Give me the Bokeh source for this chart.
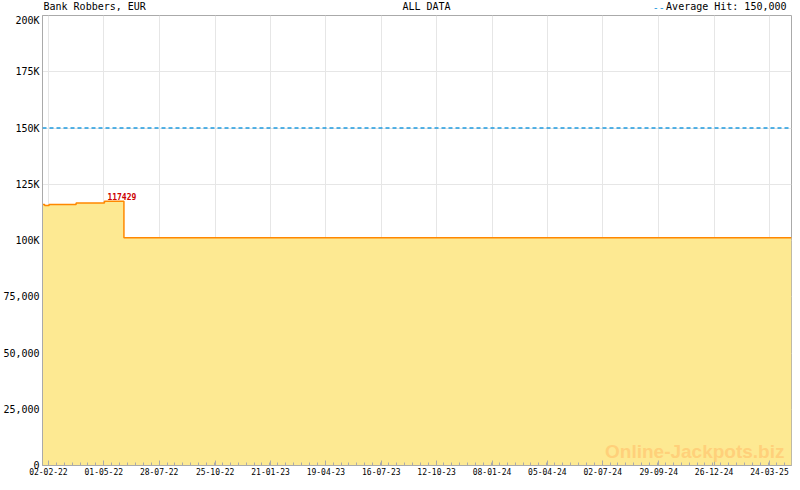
import pandas as pd
from bokeh.plotting import figure
from bokeh.layouts import column
from bokeh.models import Range1d, FixedTicker, DatetimeTickFormatter, Span, Label, ColumnDataSource
from bokeh.core.properties import value
from bokeh.embed import file_html
from bokeh.resources import INLINE

# ---- data ----
title_left = "Bank Robbers, EUR"
title_mid = "ALL DATA"
avg_label = "Average Hit: 150,000"
avg_hit = 150000
watermark = "Online-Jackpots.biz"

step_dates = ["2022-01-23 14:00", "2022-01-27", "2022-02-03", "2022-03-18",
              "2022-05-02", "2022-06-02", "2025-04-28"]
step_values = [116000, 115600, 116000, 116700, 117429, 101200]

x_tick_labels = ["02-02-22", "01-05-22", "28-07-22", "25-10-22", "21-01-23",
                 "19-04-23", "16-07-23", "12-10-23", "08-01-24", "05-04-24",
                 "02-07-24", "29-09-24", "26-12-24", "24-03-25"]
y_tick_values = [0, 25000, 50000, 75000, 100000, 125000, 150000, 175000, 200000]
y_tick_labels = ["0", "25,000", "50,000", "75,000", "100K", "125K", "150K", "175K", "200K"]

x_start = "2022-01-23 14:00"
x_end = "2025-04-28"

W = 792
HEAD_H = 14
MAIN_H = 468
LEFT = 40
RIGHT = 1
mono = "DejaVu Sans Mono"
blue = "#1e9be0"

# ---- header (titles); its frame is aligned with the main frame ----
h = figure(width=W, height=HEAD_H, x_range=Range1d(LEFT, W - RIGHT), y_range=Range1d(0, HEAD_H),
           output_backend="svg", toolbar_location=None,
           min_border_left=LEFT, min_border_right=RIGHT, min_border_top=0, min_border_bottom=0)
h.axis.visible = False
h.grid.visible = False
h.outline_line_color = None
h.background_fill_color = "white"
h.border_fill_color = "white"
h.text(x=[41], y=[8], text=[title_left], text_font=value(mono), text_font_size="10px",
       text_baseline="middle", text_align="left", text_color="black")
h.text(x=[425], y=[8], text=[title_mid], text_font=value(mono), text_font_size="10px",
       text_baseline="middle", text_align="center", text_color="black")
h.text(x=[786], y=[8], text=[avg_label], text_font=value(mono), text_font_size="10px",
       text_baseline="middle", text_align="right", text_color="black")
h.text(x=[664], y=[8], text=["--"], text_font=value(mono), text_font_size="10px",
       text_baseline="middle", text_align="right", text_color=blue)

# ---- main plot ----
dates = [pd.Timestamp(d) for d in step_dates]
xs, ys = [], []
for i, v in enumerate(step_values):
    xs += [dates[i], dates[i + 1]]
    ys += [v, v]
src = ColumnDataSource(dict(x=xs, y=ys, y0=[0] * len(ys)))

major = [pd.Timestamp(pd.to_datetime(t, format="%d-%m-%y")) for t in x_tick_labels]
step = (major[1] - major[0]) / 7
end_ts = pd.Timestamp(x_end)
minor = []
t = major[0]
while t <= end_ts:
    minor.append(t)
    t = t + step
to_ms = lambda ts: ts.value / 1e6

p = figure(width=W, height=MAIN_H, x_axis_type="datetime",
           x_range=Range1d(pd.Timestamp(x_start), end_ts),
           y_range=Range1d(0, 200000),
           output_backend="svg", toolbar_location=None,
           min_border_left=LEFT, min_border_right=RIGHT, min_border_top=1, min_border_bottom=17)
p.background_fill_color = "white"
p.border_fill_color = "white"
p.outline_line_color = "#aaaaaa"

p.varea(x="x", y1="y0", y2="y", source=src, fill_color="#fde992", fill_alpha=1)
p.line(x="x", y="y", source=src, line_color="#ff8800", line_width=1.5)

p.add_layout(Span(location=avg_hit, dimension="width", line_color=blue,
                  line_dash="4 3", line_width=1.5))

xa = p.xaxis[0]
xa.ticker = FixedTicker(ticks=[to_ms(m) for m in major], minor_ticks=[to_ms(m) for m in minor])
fmt = "%d-%m-%y"
xa.formatter = DatetimeTickFormatter(microseconds=fmt, milliseconds=fmt, seconds=fmt, minsec=fmt,
                                     minutes=fmt, hourmin=fmt, hours=fmt, days=fmt,
                                     months=fmt, years=fmt)
xa.major_label_text_font = mono
xa.major_label_text_font_size = "8px"
xa.major_label_text_color = "black"
xa.major_tick_in = 5
xa.major_tick_out = 0
xa.minor_tick_in = 3
xa.minor_tick_out = 0
xa.major_tick_line_color = "#aaaaaa"
xa.minor_tick_line_color = "#aaaaaa"
xa.axis_line_color = "#aaaaaa"
xa.major_label_standoff = 2

ya = p.yaxis[0]
ya.ticker = FixedTicker(ticks=y_tick_values)
ya.major_label_overrides = {v: l for v, l in zip(y_tick_values, y_tick_labels)}
ya.major_label_text_font = mono
ya.major_label_text_font_size = "10px"
ya.major_label_text_color = "black"
ya.major_tick_in = 0
ya.major_tick_out = 0
ya.minor_tick_in = 0
ya.minor_tick_out = 0
ya.axis_line_color = "#aaaaaa"
ya.major_label_standoff = 3

p.xgrid.grid_line_color = "#e6e6e6"
p.ygrid.grid_line_color = "#e6e6e6"

peak = max(step_values)
peak_date = dates[step_values.index(peak)]
p.add_layout(Label(x=peak_date, y=peak, x_offset=3, y_offset=1, text=str(peak),
                   text_color="#cc0000", text_font=mono, text_font_size="8px",
                   text_font_style="bold", text_baseline="bottom", text_align="left"))

p.add_layout(Label(x=742, y=14, x_units="screen", y_units="screen", text=watermark,
                   text_color="#ffd07a", text_font="Liberation Sans", text_font_size="19px",
                   text_font_style="bold", text_baseline="middle", text_align="right"))

layout = column(h, p, spacing=0)
open("out.html", "w").write(file_html(layout, INLINE))
